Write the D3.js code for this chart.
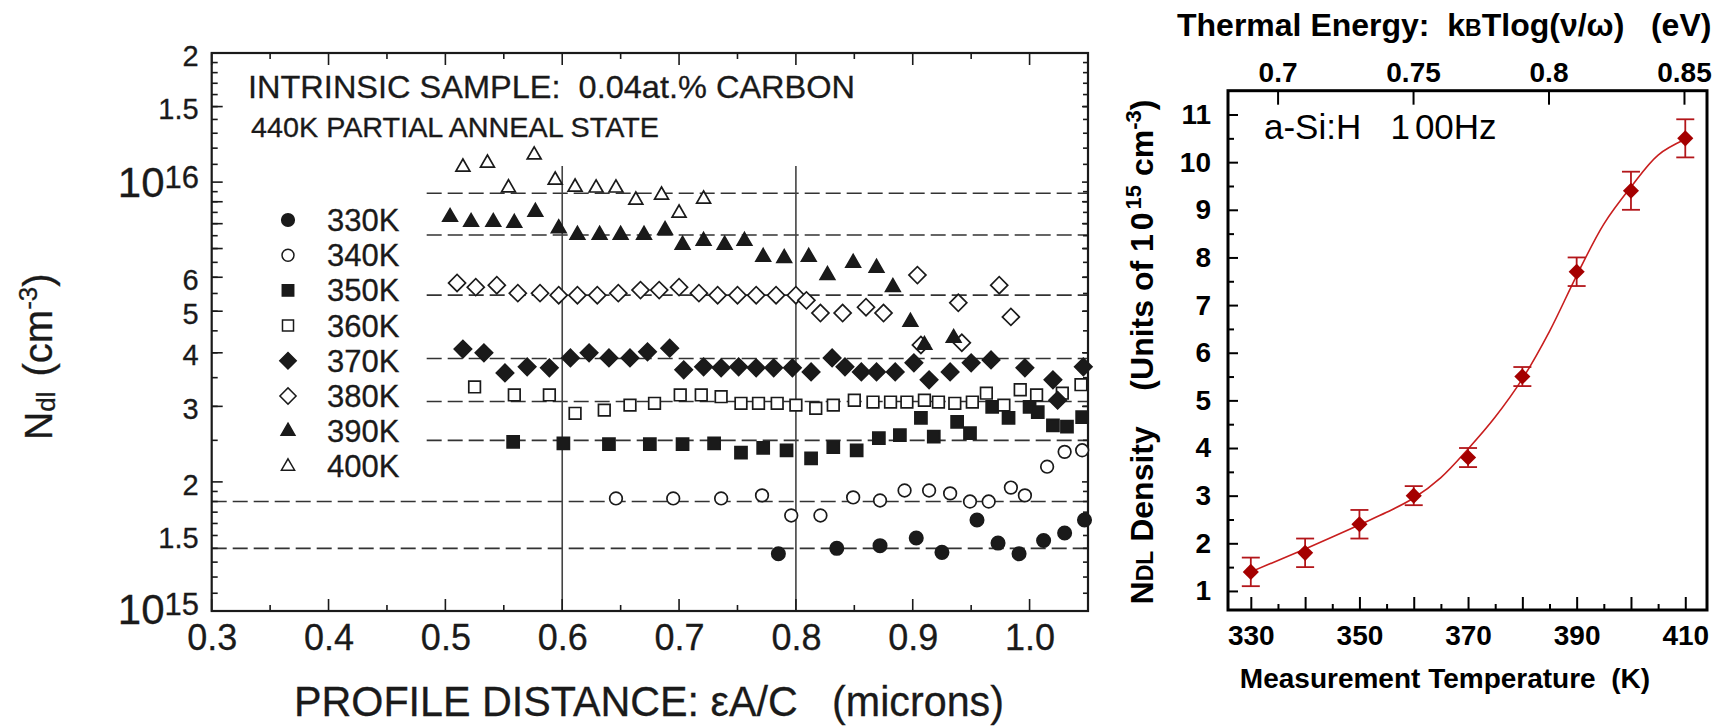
<!DOCTYPE html>
<html><head><meta charset="utf-8">
<script src="https://cdn.jsdelivr.net/npm/d3@7"></script>
<style>
body{margin:0;background:#fff}
svg{display:block}
text{font-family:"Liberation Sans",Arial,Helvetica,sans-serif}
</style>
</head><body>
<svg id="c" width="1736" height="726"></svg>
<script>
// ---------------- LEFT PANEL DATA (N in units of 1e15 cm^-3, x in microns) ----------------
const legendLabels = ["330K","340K","350K","360K","370K","380K","390K","400K"];
const s330K = [[0.785,1.36],[0.835,1.40],[0.872,1.42],[0.903,1.48],[0.925,1.37],[0.955,1.63],[0.973,1.44],[0.991,1.36],[1.012,1.46],[1.030,1.52],[1.047,1.63]];
const s340K = [[0.646,1.83],[0.695,1.83],[0.736,1.83],[0.771,1.86],[0.796,1.67],[0.821,1.67],[0.849,1.84],[0.872,1.81],[0.893,1.91],[0.914,1.91],[0.932,1.88],[0.949,1.80],[0.965,1.80],[0.984,1.94],[0.996,1.86],[1.015,2.17],[1.030,2.35],[1.045,2.37]];
const s350K = [[0.558,2.48],[0.601,2.46],[0.640,2.45],[0.675,2.45],[0.703,2.45],[0.730,2.46],[0.753,2.34],[0.772,2.40],[0.792,2.37],[0.813,2.27],[0.832,2.41],[0.852,2.37],[0.871,2.53],[0.889,2.57],[0.907,2.82],[0.918,2.55],[0.938,2.76],[0.949,2.60],[0.968,2.99],[0.982,2.82],[1.000,2.99],[1.007,2.91],[1.020,2.71],[1.032,2.69],[1.045,2.83]];
const s360K = [[0.525,3.33],[0.559,3.19],[0.589,3.19],[0.611,2.89],[0.636,2.94],[0.658,3.02],[0.679,3.05],[0.701,3.19],[0.719,3.19],[0.736,3.16],[0.753,3.05],[0.768,3.05],[0.784,3.05],[0.800,3.02],[0.817,2.97],[0.832,3.02],[0.850,3.10],[0.866,3.07],[0.881,3.07],[0.895,3.07],[0.910,3.10],[0.922,3.07],[0.936,3.05],[0.951,3.07],[0.963,3.22],[0.978,3.02],[0.992,3.28],[1.006,3.19],[1.028,3.22],[1.044,3.37]];
const s370K = [[0.515,4.08],[0.533,4.00],[0.551,3.59],[0.570,3.71],[0.589,3.69],[0.607,3.89],[0.623,4.00],[0.640,3.89],[0.658,3.89],[0.673,4.02],[0.692,4.10],[0.704,3.65],[0.721,3.71],[0.736,3.69],[0.751,3.71],[0.766,3.69],[0.781,3.69],[0.797,3.69],[0.813,3.61],[0.831,3.89],[0.842,3.71],[0.856,3.61],[0.869,3.61],[0.885,3.61],[0.901,3.79],[0.914,3.46],[0.932,3.61],[0.950,3.79],[0.967,3.85],[0.996,3.69],[1.020,3.46],[1.024,3.10],[1.046,3.71]];
const s380K = [[0.510,5.82],[0.526,5.69],[0.544,5.75],[0.562,5.51],[0.581,5.51],[0.597,5.45],[0.613,5.45],[0.630,5.45],[0.648,5.51],[0.667,5.60],[0.683,5.60],[0.700,5.69],[0.717,5.51],[0.733,5.45],[0.750,5.45],[0.766,5.45],[0.783,5.45],[0.800,5.45],[0.809,5.30],[0.821,4.95],[0.840,4.95],[0.860,5.11],[0.875,4.95],[0.904,6.07],[0.907,4.17],[0.939,5.23],[0.942,4.22],[0.974,5.75],[0.984,4.85]];
const s390K = [[0.504,8.29],[0.522,8.07],[0.541,8.07],[0.559,8.03],[0.577,8.52],[0.597,7.80],[0.613,7.53],[0.632,7.53],[0.650,7.53],[0.670,7.53],[0.688,7.73],[0.703,7.14],[0.721,7.29],[0.739,7.14],[0.756,7.29],[0.772,6.69],[0.790,6.65],[0.811,6.69],[0.827,6.07],[0.849,6.48],[0.869,6.31],[0.883,5.69],[0.898,4.72],[0.910,4.17],[0.935,4.33]];
const s400K = [[0.515,10.84],[0.536,11.08],[0.576,11.57],[0.554,9.70],[0.594,10.11],[0.611,9.74],[0.629,9.69],[0.646,9.69],[0.663,9.08],[0.685,9.33],[0.700,8.47],[0.721,9.13]];
const levelValues = [1.40,1.80,2.50,3.08,3.88,5.45,7.53,9.42];   // dashed reference levels
const gridX = [0.6,0.8];
const gridTop = 10.9;
const dashStartX = 0.484;
const xTicksL = [0.3,0.4,0.5,0.6,0.7,0.8,0.9,1.0];
const yLabelsL = [1.5,2,3,4,5,6,15,20];

// ---------------- RIGHT PANEL DATA ----------------
const tempsK = [330,340,350,360,370,380,390,400,410];
const densities = [1.4,1.8,2.4,3.0,3.8,5.5,7.7,9.4,10.5];
const errors = [0.3,0.3,0.3,0.2,0.2,0.2,0.3,0.4,0.4];
const fitT = [330,335,340,345,350,355,360,365,370,375,380,385,390,395,400,405,410];
const fitN = [1.40,1.64,1.88,2.13,2.39,2.65,2.95,3.38,3.98,4.65,5.45,6.45,7.62,8.70,9.48,10.15,10.48];
const tempTicks = [330,340,350,360,370,380,390,400,410];
const energyTicks = [0.7,0.75,0.8,0.85];
const densityTicks = [1,2,3,4,5,6,7,8,9,10,11];

// ---------------- DRAW ----------------
const svg = d3.select("#c");
svg.append("rect").attr("width",1736).attr("height",726).attr("fill","#fff");
const ink = "#1a1a1a";

// LEFT
const xL = d3.scaleLinear().domain([0.3,1.05]).range([211.7,1088]);
const yL = d3.scaleLog().domain([1,20]).range([611,53]);
const gL = svg.append("g");

levelValues.forEach(v=>{
  gL.append("line")
    .attr("x1", xL(v<2 ? xL.domain()[0] : dashStartX)).attr("x2", xL.range()[1])
    .attr("y1", yL(v)).attr("y2", yL(v))
    .attr("stroke","#333").attr("stroke-width",1.6).attr("stroke-dasharray","15,6");
});
gridX.forEach(x=>{
  gL.append("line").attr("x1",xL(x)).attr("x2",xL(x)).attr("y1",yL(gridTop)).attr("y2",yL(1))
    .attr("stroke","#444").attr("stroke-width",1.6);
});

const minorY = d3.range(1.1,2.0,0.1).concat(d3.range(2.5,10,0.5)).concat(d3.range(11,20,1));
const majorY = [1,2,3,4,5,6,7,8,9,10,15,20];
const tickG = gL.append("g").attr("stroke",ink).attr("stroke-width",1.6);
function hTick(v,len,side){ const x0 = side==="l"?xL.range()[0]:xL.range()[1]; const d = side==="l"?len:-len;
  tickG.append("line").attr("x1",x0).attr("x2",x0+d).attr("y1",yL(v)).attr("y2",yL(v)); }
minorY.forEach(v=>{hTick(v,6,"l");hTick(v,5,"r");});
majorY.forEach(v=>{hTick(v,11,"l");hTick(v,6,"r");});
const xMinor = d3.range(0.35,1.05,0.1);
function vTick(x,len,side){ const y0 = side==="b"?yL.range()[0]:yL.range()[1]; const d = side==="b"?-len:len;
  tickG.append("line").attr("x1",xL(x)).attr("x2",xL(x)).attr("y1",y0).attr("y2",y0+d); }
xTicksL.forEach(x=>{vTick(x,12,"b");vTick(x,12,"t");});
xMinor.forEach(x=>{vTick(x,6,"b");vTick(x,6,"t");});

gL.append("rect").attr("x",xL.range()[0]).attr("y",yL.range()[1])
  .attr("width",xL.range()[1]-xL.range()[0]).attr("height",yL.range()[0]-yL.range()[1])
  .attr("fill","none").attr("stroke",ink).attr("stroke-width",2.2);

const axB = d3.axisBottom(xL).tickValues(xTicksL).tickSize(0).tickPadding(13).tickFormat(d3.format(".1f"));
gL.append("g").attr("transform",`translate(0,${yL.range()[0]})`).call(axB)
  .call(g=>g.select(".domain").remove())
  .selectAll("text").attr("font-size",36).attr("fill",ink).attr("stroke",ink).attr("stroke-width",0.3)
  .style("font-family","'Liberation Sans',Arial,sans-serif");
const axLf = d3.axisLeft(yL).tickValues(yLabelsL).tickSize(0).tickPadding(13).tickFormat(d=> d>=10 ? String(d/10) : String(d));
gL.append("g").attr("transform",`translate(${xL.range()[0]},0)`).call(axLf)
  .call(g=>g.select(".domain").remove())
  .selectAll("text").attr("font-size",29).attr("fill",ink).attr("stroke",ink).attr("stroke-width",0.3)
  .attr("dy","0.42em").style("font-family","'Liberation Sans',Arial,sans-serif");
[[10,"16",15,9],[1,"15",13,9]].forEach(([v,e,off,raise])=>{
  const t = gL.append("text").attr("x",199).attr("y",yL(v)+off).attr("text-anchor","end")
    .attr("fill",ink).attr("stroke",ink).attr("stroke-width",0.3);
  t.append("tspan").attr("font-size",42).text("10");
  t.append("tspan").attr("font-size",31).attr("dy",-raise).text(e);
});

const sym = (type,size)=>d3.symbol().type(type).size(size)();
const seriesDefs = [
  {data:s330K, type:d3.symbolCircle, size:140, fill:ink, rot:0},
  {data:s340K, type:d3.symbolCircle, size:125, fill:"#fff", rot:0},
  {data:s350K, type:d3.symbolSquare, size:145, fill:ink, rot:0},
  {data:s360K, type:d3.symbolSquare, size:135, fill:"#fff", rot:0},
  {data:s370K, type:d3.symbolSquare, size:150, fill:ink, rot:45},
  {data:s380K, type:d3.symbolSquare, size:145, fill:"#fff", rot:45},
  {data:s390K, type:d3.symbolTriangle, size:92, fill:ink, rot:0},
  {data:s400K, type:d3.symbolTriangle, size:84, fill:"#fff", rot:0}
];
seriesDefs.forEach(s=>{
  gL.append("g").selectAll("path").data(s.data).join("path")
    .attr("d",sym(s.type,s.size))
    .attr("transform",d=>`translate(${xL(d[0])},${yL(d[1])}) rotate(${s.rot})`)
    .attr("fill",s.fill).attr("stroke",ink).attr("stroke-width",1.7);
});
const legG = gL.append("g");
seriesDefs.forEach((s,i)=>{
  const y = 220 + i*35.2;
  legG.append("path").attr("d",sym(s.type,s.size*0.9))
    .attr("transform",`translate(288,${y}) rotate(${s.rot})`)
    .attr("fill",s.fill).attr("stroke",ink).attr("stroke-width",1.5);
  legG.append("text").attr("x",327).attr("y",y+11).attr("font-size",31).attr("fill",ink)
    .attr("stroke",ink).attr("stroke-width",0.3).text(legendLabels[i]);
});

gL.append("text").attr("x",248).attr("y",98).attr("font-size",32).attr("fill",ink).attr("stroke",ink).attr("stroke-width",0.3)
  .attr("textLength",607).attr("lengthAdjust","spacingAndGlyphs").style("white-space","pre")
  .text("INTRINSIC SAMPLE:  0.04at.% CARBON");
gL.append("text").attr("x",251).attr("y",137).attr("font-size",27).attr("fill",ink).attr("stroke",ink).attr("stroke-width",0.3)
  .attr("textLength",408).attr("lengthAdjust","spacingAndGlyphs")
  .text("440K PARTIAL ANNEAL STATE");
gL.append("text").attr("x",294).attr("y",716).attr("font-size",43).attr("fill",ink).attr("stroke",ink).attr("stroke-width",0.3)
  .attr("textLength",710).attr("lengthAdjust","spacingAndGlyphs").style("white-space","pre")
  .text("PROFILE DISTANCE: εA/C   (microns)");
const yt = gL.append("text").attr("transform","translate(52,440) rotate(-90)").attr("fill",ink)
  .attr("stroke",ink).attr("stroke-width",0.3).style("white-space","pre");
yt.append("tspan").attr("font-size",39).text("N");
yt.append("tspan").attr("font-size",26).attr("dy",3).text("dl");
yt.append("tspan").attr("font-size",40).attr("dy",-3).attr("dx",4).text(" (cm");
yt.append("tspan").attr("font-size",26).attr("dy",-15).text("-3");
yt.append("tspan").attr("font-size",40).attr("dy",15).text(")");

// RIGHT
const xR = d3.scaleLinear().domain([325.8,414]).range([1228,1707]);
const yR = d3.scaleLinear().domain([0.6,11.5]).range([610,90.7]);
const xE = d3.scaleLinear().domain([0.6817,0.8585]).range([1228,1707]);
const gR = svg.append("g");
const styleTicks = g=>{ g.select(".domain").remove();
  g.selectAll("line").attr("stroke","#000").attr("stroke-width",2);
  g.selectAll("text").attr("font-size",28).attr("font-weight","bold").attr("fill","#000")
   .style("font-family","'Liberation Sans',Arial,sans-serif"); };
gR.append("g").attr("transform",`translate(0,${yR.range()[0]})`)
  .call(d3.axisBottom(xR).tickValues(tempTicks).tickSizeInner(-13).tickSizeOuter(0).tickPadding(15)
    .tickFormat(d=> (d-330)%20===0 ? String(d) : "")).call(styleTicks);
gR.append("g").attr("transform",`translate(0,${yR.range()[0]})`)
  .call(d3.axisBottom(xR).tickValues(d3.range(335,410,10)).tickSizeInner(-6).tickSizeOuter(0).tickFormat(()=>"")).call(styleTicks);
gR.append("g").attr("transform",`translate(${xR.range()[0]},0)`)
  .call(d3.axisLeft(yR).tickValues(densityTicks).tickSizeInner(-10).tickSizeOuter(0).tickPadding(17)
    .tickFormat(d3.format("d"))).call(styleTicks);
gR.append("g").attr("transform",`translate(${xR.range()[0]},0)`)
  .call(d3.axisLeft(yR).tickValues(d3.range(1.5,11,1)).tickSizeInner(-6).tickSizeOuter(0).tickFormat(()=>"")).call(styleTicks);
gR.append("g").attr("transform",`translate(0,${yR.range()[1]})`)
  .call(d3.axisTop(xE).tickValues(energyTicks).tickSizeInner(-14).tickSizeOuter(0).tickPadding(9)
    .tickFormat(d=>String(d))).call(styleTicks);

gR.append("rect").attr("x",xR.range()[0]).attr("y",yR.range()[1])
  .attr("width",xR.range()[1]-xR.range()[0]).attr("height",yR.range()[0]-yR.range()[1])
  .attr("fill","none").attr("stroke","#000").attr("stroke-width",3);

gR.append("path").datum(fitT.map((t,i)=>[t,fitN[i]]))
  .attr("d",d3.line().x(d=>xR(d[0])).y(d=>yR(d[1])).curve(d3.curveCatmullRom))
  .attr("fill","none").attr("stroke","#c81e1e").attr("stroke-width",1.6);
const eb = gR.append("g").attr("stroke","#b3161a").attr("stroke-width",1.8);
tempsK.forEach((t,i)=>{
  const x = xR(t), y1 = yR(densities[i]-errors[i]), y2 = yR(densities[i]+errors[i]);
  eb.append("line").attr("x1",x).attr("x2",x).attr("y1",y1).attr("y2",y2);
  eb.append("line").attr("x1",x-9).attr("x2",x+9).attr("y1",y1).attr("y2",y1);
  eb.append("line").attr("x1",x-9).attr("x2",x+9).attr("y1",y2).attr("y2",y2);
});
gR.append("g").selectAll("path").data(tempsK.map((t,i)=>[t,densities[i]])).join("path")
  .attr("d",d3.symbol().type(d3.symbolSquare).size(130)())
  .attr("transform",d=>`translate(${xR(d[0])},${yR(d[1])}) rotate(45)`)
  .attr("fill","#a50000");

const at = gR.append("text").attr("x",1264).attr("y",139).attr("font-size",35).attr("fill","#000").style("white-space","pre");
at.append("tspan").text("a-Si:H   1");
at.append("tspan").attr("dx",5).text("00Hz");
const tt = gR.append("text").attr("x",1177).attr("y",36).attr("font-size",32).attr("font-weight","bold").attr("fill","#000").style("white-space","pre");
tt.append("tspan").text("Thermal Energy:  k");
tt.append("tspan").attr("font-size",23).text("B");
tt.append("tspan").text("Tlog(ν/ω)   (eV)");
gR.append("text").attr("x",1445).attr("y",688).attr("text-anchor","middle").attr("font-size",28)
  .attr("font-weight","bold").attr("fill","#000").style("white-space","pre").text("Measurement Temperature  (K)");
const ry = gR.append("text").attr("transform","translate(1153,352) rotate(-90)").attr("text-anchor","middle")
  .attr("font-size",32).attr("font-weight","bold").attr("fill","#000").style("white-space","pre");
ry.append("tspan").text("N");
ry.append("tspan").attr("font-size",23).text("DL");
ry.append("tspan").text(" Density    (Units of 1");
ry.append("tspan").attr("dx",4).text("0");
ry.append("tspan").attr("font-size",22).attr("dy",-12).attr("dx",3).text("15");
ry.append("tspan").attr("dy",12).text(" cm");
ry.append("tspan").attr("font-size",22).attr("dy",-12).text("-3");
ry.append("tspan").attr("dy",12).text(")");
</script>
</body></html>
